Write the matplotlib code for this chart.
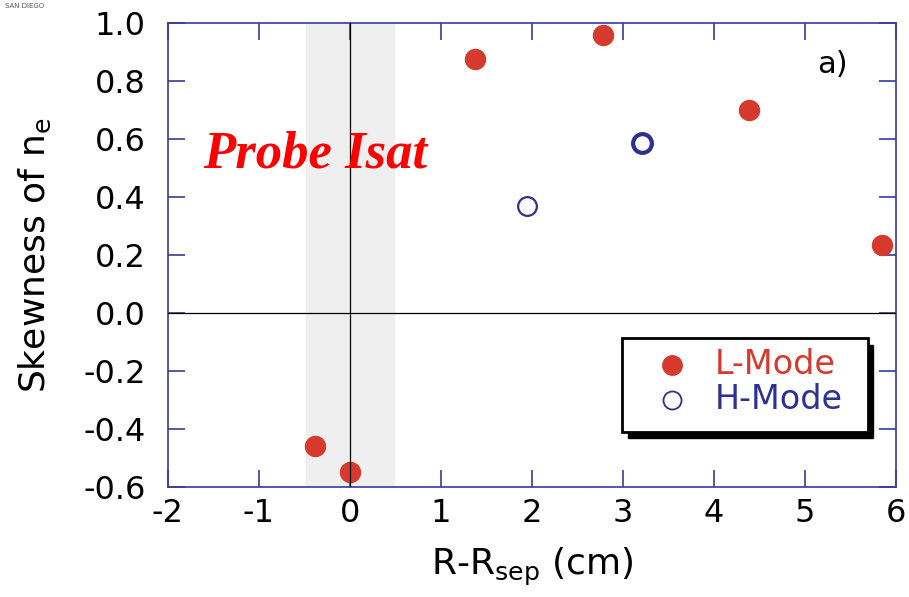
import matplotlib.pyplot as plt
from matplotlib.patches import Rectangle

# Skewness of n_e vs R-Rsep, probe Isat
l_x = [-0.38, 0.0, 1.37, 2.78, 4.39, 5.85]
l_y = [-0.46, -0.55, 0.875, 0.96, 0.70, 0.235]
h_x = [1.95, 3.21]
h_y = [0.37, 0.585]
h_lw = [1.6, 3.0]

band = (-0.48, 0.48)
xticks = [-2, -1, 0, 1, 2, 3, 4, 5, 6]
yticks = [-0.6, -0.4, -0.2, 0.0, 0.2, 0.4, 0.6, 0.8, 1.0]

red = '#d63a2f'
blue = '#2e3192'
navy = '#3a3a9c'

plt.rcParams['font.family'] = ['DejaVu Sans']

fig = plt.figure(figsize=(9.09, 5.97), dpi=100)
ax = fig.add_axes([0.1848, 0.1843, 0.8009, 0.7772])

ax.axvspan(band[0], band[1], color='#efefef', zorder=0)

ax.plot(l_x, l_y, 'o', ms=14.4, color=red, mec=red, zorder=3)
for x, y, w in zip(h_x, h_y, h_lw):
    ax.plot(x, y, 'o', ms=13.5, mfc='white', mec=blue, mew=w, zorder=3)

# zero lines sit on top of the markers, like in the original
ax.plot([-2, 6], [0, 0], color='black', lw=0.9, zorder=4)
ax.plot([0, 0], [-0.6, 1.0], color='black', lw=0.9, zorder=4)

ax.set_xlim(-2, 6)
ax.set_ylim(-0.6, 1.0)
ax.set_xticks(xticks)
ax.set_yticks(yticks)
ax.set_xticklabels([str(t) for t in xticks])
ax.set_yticklabels([f'{t:.1f}' for t in yticks])
ax.tick_params(direction='in', length=12, width=1.2, color=navy,
               top=True, right=True, labelsize=23)
ax.tick_params(axis='y', pad=16)
ax.tick_params(axis='x', pad=8)
for s in ax.spines.values():
    s.set_color(navy)
    s.set_linewidth(1.2)

ax.set_xlabel('R-R$_{\\mathregular{sep}}$ (cm)', fontsize=26, labelpad=12)
ax.set_ylabel('Skewness of n$_{\\mathregular{e}}$', fontsize=26, labelpad=22)

ax.text(-1.62, 0.50, 'Probe Isat', family='Liberation Serif', style='italic',
        weight='bold', color='red', fontsize=38, zorder=5)
ax.text(0.913, 0.91, 'a)', transform=ax.transAxes, fontsize=22,
        ha='center', va='center')

fig.text(0.005, 0.995, 'SAN DIEGO', fontsize=5, color='#555555',
         ha='left', va='top')

# legend with drop shadow
lx0, ly0, lw, lh = 0.624, 0.118, 0.337, 0.202
shadow = Rectangle((lx0 + 0.008, ly0 - 0.013), lw, lh, transform=ax.transAxes,
                   facecolor='black', edgecolor='black', zorder=6)
box = Rectangle((lx0, ly0), lw, lh, transform=ax.transAxes,
                facecolor='white', edgecolor='black', lw=2, zorder=7)
ax.add_patch(shadow)
ax.add_patch(box)
ax.plot([0.692], [0.263], 'o', ms=14, color=red, transform=ax.transAxes, zorder=8,
        clip_on=False)
ax.plot([0.692], [0.1875], 'o', ms=13, mfc='white', mec=blue, mew=1.3,
        transform=ax.transAxes, zorder=8, clip_on=False)
ax.text(0.751, 0.263, 'L-Mode', color=red, fontsize=24, transform=ax.transAxes,
        va='center', zorder=8)
ax.text(0.751, 0.1875, 'H-Mode', color=blue, fontsize=24, transform=ax.transAxes,
        va='center', zorder=8)

fig.savefig('out.png', dpi=100)
